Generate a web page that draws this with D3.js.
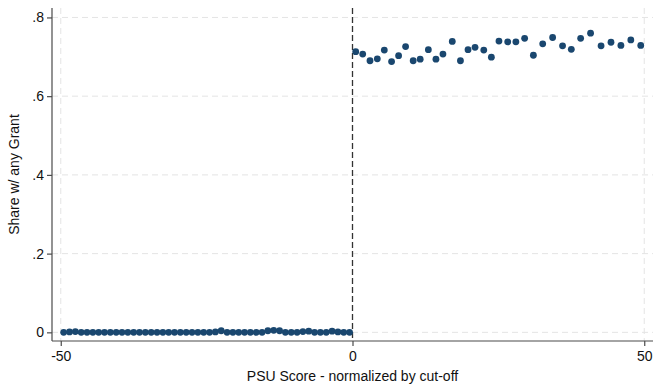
<!DOCTYPE html>
<html>
<head>
<meta charset="utf-8">
<script src="https://cdn.jsdelivr.net/npm/d3@7"></script>
<style>
  html, body { margin: 0; padding: 0; background: #fff; }
  svg { display: block; font-family: "Liberation Sans", Arial, sans-serif; }
</style>
</head>
<body>
<svg id="chart" width="653" height="384"></svg>
<script>
// Binned means below the cut-off (score bins centred on half-integers)
const leftScores = d3.range(-49.5, 0, 1);
const leftShares = [
  0, 0.001, 0.002, 0, 0, 0, 0, 0, 0, 0,
  0, 0, 0, 0, 0, 0, 0, 0, 0, 0,
  0, 0, 0, 0, 0, 0, 0.001, 0.004, 0, 0,
  0, 0, 0, 0, 0, 0.004, 0.005, 0.004, 0, 0,
  0, 0.002, 0.003, 0, 0, 0, 0.003, 0.001, 0, 0
];

// Binned means above the cut-off
const rightScores = [
  0.55, 1.75, 3.0, 4.25, 5.45, 6.7, 7.9, 9.1, 10.4, 11.6,
  13.0, 14.3, 15.5, 17.1, 18.5, 19.8, 21.0, 22.5, 23.8, 25.1,
  26.6, 28.0, 29.5, 31.0, 32.6, 34.3, 36.0, 37.5, 39.1, 40.8,
  42.6, 44.3, 46.0, 47.7, 49.4
];
const rightShares = [
  0.713, 0.707, 0.690, 0.695, 0.717, 0.688, 0.703, 0.726, 0.690, 0.694,
  0.718, 0.694, 0.707, 0.739, 0.690, 0.718, 0.724, 0.717, 0.699, 0.740,
  0.738, 0.738, 0.747, 0.704, 0.733, 0.749, 0.728, 0.719, 0.747, 0.760,
  0.728, 0.737, 0.729, 0.743, 0.729
];

const xTicks = [-50, 0, 50];
const xTickLabels = ["-50", "0", "50"];
const yTicks = [0, 0.2, 0.4, 0.6, 0.8];
const yTickLabels = ["0", ".2", ".4", ".6", ".8"];
const cutoff = 0;

const xTitle = "PSU Score - normalized by cut-off";
const yTitle = "Share w/ any Grant";

const svg = d3.select("#chart");
const plotL = 52, plotR = 653, plotT = 8, plotB = 341;

const x = d3.scaleLinear().domain([-51.5, 51.5]).range([plotL, plotR]);
const y = d3.scaleLinear().domain([-0.022, 0.824]).range([plotB, plotT]);

const points = leftScores.map((s, i) => ({ s, v: leftShares[i] }))
  .concat(rightScores.map((s, i) => ({ s, v: rightShares[i] })));

// Light dashed grid
const grid = svg.append("g").attr("stroke", "#e4e4e4").attr("stroke-width", 1)
  .attr("stroke-dasharray", "6,4").attr("fill", "none");
grid.selectAll("line.h").data(yTicks).join("line").attr("class", "h")
  .attr("x1", plotL).attr("x2", plotR)
  .attr("y1", d => y(d)).attr("y2", d => y(d));
grid.selectAll("line.v").data(xTicks.filter(d => d !== cutoff)).join("line").attr("class", "v")
  .attr("x1", d => x(d)).attr("x2", d => x(d))
  .attr("y1", plotT).attr("y2", plotB);

// Axes
const xAxis = d3.axisBottom(x).tickValues(xTicks)
  .tickFormat((d, i) => xTickLabels[i]).tickSize(5).tickSizeOuter(0);
const yAxis = d3.axisLeft(y).tickValues(yTicks)
  .tickFormat((d, i) => yTickLabels[i]).tickSize(5).tickSizeOuter(0);

const gx = svg.append("g").attr("transform", `translate(0,${plotB})`).call(xAxis);
const gy = svg.append("g").attr("transform", `translate(${plotL},0)`).call(yAxis);
[gx, gy].forEach(g => {
  g.select(".domain").attr("stroke", "#4a4a4a").attr("stroke-width", 1.2);
  g.selectAll(".tick line").attr("stroke", "#4a4a4a").attr("stroke-width", 1.2);
  g.selectAll(".tick text").attr("fill", "#111").attr("font-size", 14)
    .attr("font-family", "Liberation Sans, Arial, sans-serif");
});
gx.select(".domain").attr("d", `M${plotL},0H${plotR}`);
gy.select(".domain").attr("d", `M0,${plotT}V${plotB}`);
gx.selectAll(".tick text").attr("dy", "0.85em").attr("y", 8);
gy.selectAll(".tick text").attr("x", -8);

// Cut-off reference line
svg.append("line")
  .attr("x1", x(cutoff)).attr("x2", x(cutoff))
  .attr("y1", plotT).attr("y2", plotB)
  .attr("stroke", "#333").attr("stroke-width", 1.3)
  .attr("stroke-dasharray", "6,3");

// Binned scatter
svg.append("g").selectAll("circle").data(points).join("circle")
  .attr("cx", d => x(d.s)).attr("cy", d => y(d.v)).attr("r", 3.4)
  .attr("fill", "#1a476f");

// Titles
svg.append("text").attr("x", (plotL + plotR) / 2).attr("y", 381)
  .attr("text-anchor", "middle").attr("font-size", 14).attr("fill", "#111")
  .text(xTitle);
svg.append("text")
  .attr("transform", `translate(19,${(plotT + plotB) / 2}) rotate(-90)`)
  .attr("text-anchor", "middle").attr("font-size", 14).attr("fill", "#111")
  .text(yTitle);
</script>
</body>
</html>
